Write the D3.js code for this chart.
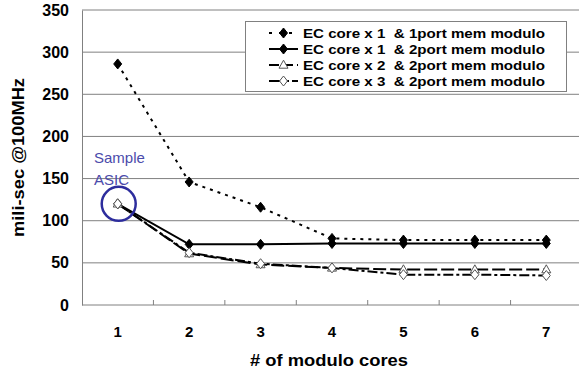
<!DOCTYPE html>
<html>
<head>
<meta charset="utf-8">
<script src="https://cdn.jsdelivr.net/npm/d3@7"></script>
<style>
  html, body { margin: 0; padding: 0; background: #fff; }
  svg { display: block; font-family: Arial, "Liberation Sans", sans-serif; }
</style>
</head>
<body>
<div id="chart"></div>
<script>
// chart values
const cores = [1, 2, 3, 4, 5, 6, 7];
const seriesNames = [
  "EC core x 1  & 1port mem modulo",
  "EC core x 1  & 2port mem modulo",
  "EC core x 2  & 2port mem modulo",
  "EC core x 3  & 2port mem modulo"
];
const ec1Port1 = [286, 146, 116, 79, 77, 77, 77];
const ec1Port2 = [120, 72, 72, 73, 73, 73, 73];
const ec2Port2 = [120, 61, 48, 44, 42, 42, 42];
const ec3Port2 = [120, 62, 49, 44, 36, 36, 35];
const yTicks = [0, 50, 100, 150, 200, 250, 300, 350];
const highlightCore = 1;
const highlightValue = 120;

const width = 579, height = 372;
const margin = { top: 10, left: 82, right: -3, bottom: 67 };

const svg = d3.select("#chart").append("svg")
  .attr("width", width)
  .attr("height", height);

const x = d3.scaleBand()
  .domain(cores)
  .range([margin.left, width - margin.right])
  .padding(0);

const y = d3.scaleLinear()
  .domain([0, 350])
  .range([height - margin.bottom, margin.top]);

const cx = d => x(d) + x.bandwidth() / 2;

// gridlines
svg.append("g")
  .selectAll("line")
  .data(yTicks.filter(t => t > 0))
  .join("line")
  .attr("x1", margin.left)
  .attr("x2", width)
  .attr("y1", d => y(d))
  .attr("y2", d => y(d))
  .attr("stroke", "#808080")
  .attr("stroke-width", 1);

// y axis
const yAxis = svg.append("g")
  .attr("transform", `translate(${margin.left},0)`)
  .call(d3.axisLeft(y).tickValues(yTicks).tickSize(0).tickPadding(13));
yAxis.select(".domain").attr("stroke", "#808080");
yAxis.selectAll("text")
  .attr("font-size", 16)
  .attr("font-weight", "bold")
  .attr("fill", "#000")
  .attr("font-family", "Arial, 'Liberation Sans', sans-serif");

// x axis (ticks between categories, pointing up)
const xAxisG = svg.append("g");
xAxisG.append("line")
  .attr("x1", margin.left).attr("x2", width)
  .attr("y1", y(0)).attr("y2", y(0))
  .attr("stroke", "#808080");
xAxisG.selectAll(".tick")
  .data(cores.slice(1))
  .join("line")
  .attr("class", "tick")
  .attr("x1", d => x(d)).attr("x2", d => x(d))
  .attr("y1", y(0)).attr("y2", y(0) - 5)
  .attr("stroke", "#808080");
xAxisG.selectAll("text")
  .data(cores)
  .join("text")
  .attr("x", d => cx(d))
  .attr("y", 337)
  .attr("text-anchor", "middle")
  .attr("font-size", 15)
  .attr("font-weight", "bold")
  .text(d => d);

// axis titles
svg.append("text")
  .attr("x", 250)
  .attr("y", 366)
  .attr("font-size", 16)
  .attr("font-weight", "bold")
  .attr("textLength", 158)
  .attr("lengthAdjust", "spacingAndGlyphs")
  .text("# of modulo cores");

svg.append("text")
  .attr("transform", "translate(24,237) rotate(-90)")
  .attr("font-size", 17)
  .attr("font-weight", "bold")
  .attr("textLength", 159)
  .attr("lengthAdjust", "spacingAndGlyphs")
  .text("mili-sec @100MHz");

// markers
const diamond = (w, h) => `M0,${-h}L${w},0L0,${h}L${-w},0Z`;
const triangle = (w, h) => `M0,${-h * 0.6}L${w},${h * 0.4}L${-w},${h * 0.4}Z`;

const series = [
  { name: seriesNames[0], values: ec1Port1, dash: "3,5", legendDash: "3,7", marker: diamond(4, 5), fill: "#000", stroke: "#000" },
  { name: seriesNames[1], values: ec1Port2, dash: null, legendDash: null, marker: diamond(4, 5), fill: "#000", stroke: "#000" },
  { name: seriesNames[2], values: ec2Port2, dash: "13,4", legendDash: "10,4", marker: triangle(4.5, 8), fill: "#fff", stroke: "#555" },
  { name: seriesNames[3], values: ec3Port2, dash: "10,3,3,3", legendDash: "12,5,3,3", marker: diamond(4, 5), fill: "#fff", stroke: "#555" }
];

const line = d3.line()
  .x((d, i) => cx(cores[i]))
  .y(d => y(d));

series.forEach(s => {
  svg.append("path")
    .datum(s.values)
    .attr("d", line)
    .attr("fill", "none")
    .attr("stroke", "#000")
    .attr("stroke-width", 2)
    .attr("stroke-dasharray", s.dash);
});

series.forEach(s => {
  svg.append("g")
    .selectAll("path")
    .data(s.values)
    .join("path")
    .attr("transform", (d, i) => `translate(${cx(cores[i])},${y(d)})`)
    .attr("d", s.marker)
    .attr("fill", s.fill)
    .attr("stroke", s.stroke)
    .attr("stroke-width", 1);
});

// Sample ASIC annotation
svg.append("circle")
  .attr("cx", cx(highlightCore) + 1)
  .attr("cy", y(highlightValue))
  .attr("r", 17)
  .attr("fill", "none")
  .attr("stroke", "#2d2d9d")
  .attr("stroke-width", 2.5);

svg.append("text")
  .attr("x", 94).attr("y", 163)
  .attr("font-size", 15)
  .attr("fill", "#4b4bab")
  .text("Sample");
svg.append("text")
  .attr("x", 94).attr("y", 185)
  .attr("font-size", 15)
  .attr("fill", "#4b4bab")
  .text("ASIC");

// legend
const legend = svg.append("g");
legend.append("rect")
  .attr("x", 245.5).attr("y", 21.5)
  .attr("width", 321).attr("height", 70)
  .attr("fill", "#fff")
  .attr("stroke", "#808080");

const rows = legend.selectAll("g.row")
  .data(series)
  .join("g")
  .attr("class", "row")
  .attr("transform", (d, i) => `translate(0,${33 + i * 16})`);

rows.append("line")
  .attr("x1", 269).attr("x2", 298)
  .attr("y1", 0).attr("y2", 0)
  .attr("stroke", "#000")
  .attr("stroke-width", 2)
  .attr("stroke-dasharray", d => d.legendDash);

rows.append("path")
  .attr("transform", "translate(283.5,0)")
  .attr("d", d => d.marker)
  .attr("fill", d => d.fill)
  .attr("stroke", d => d.stroke);

rows.append("text")
  .attr("x", 303)
  .attr("y", 4.5)
  .attr("font-size", 13.5)
  .attr("font-weight", "bold")
  .attr("xml:space", "preserve")
  .attr("textLength", 242)
  .attr("lengthAdjust", "spacingAndGlyphs")
  .style("white-space", "pre")
  .text(d => d.name);
</script>
</body>
</html>
